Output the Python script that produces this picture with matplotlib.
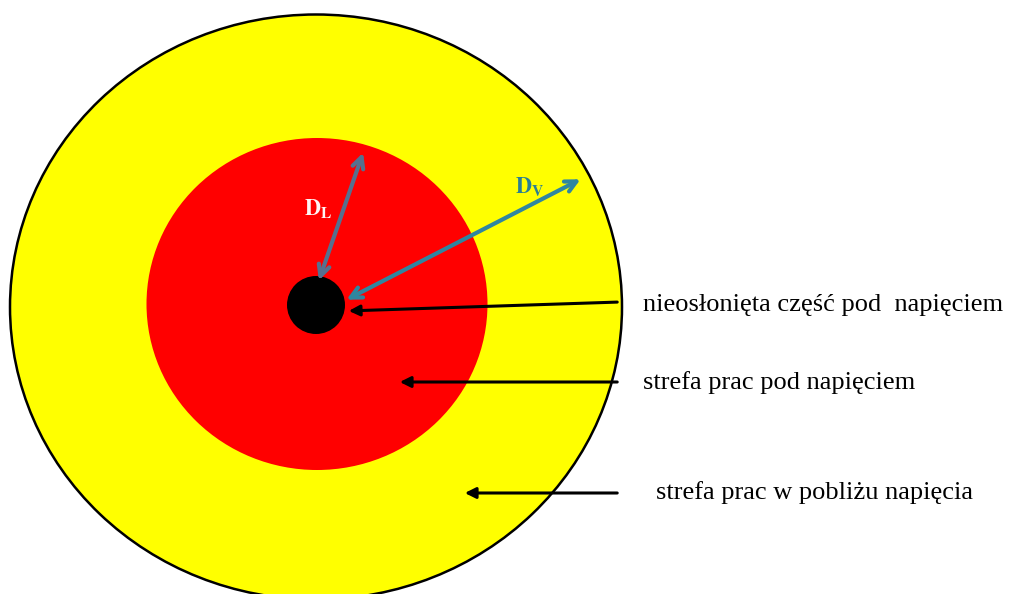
import matplotlib.pyplot as plt
from matplotlib.patches import Ellipse

plt.rcParams['mathtext.fontset'] = 'stix'

# zone geometry in image pixels (x, y from top-left)
centre = (316, 307)
outer_size = (612, 585)
inner_size = (341, 332)
dot_size = (58, 58)

labels = ["nieosłonięta część pod  napięciem",
          "strefa prac pod napięciem",
          "strefa prac w pobliżu napięcia"]
label_x = [643, 643, 656]
label_y = [305, 383, 493]
arrow_start = [(620, 302), (620, 382), (620, 493)]
arrow_end = [(346, 311), (397, 382), (462, 493)]

dl_arrow = [(318, 283), (364, 150)]
dv_arrow = [(344, 301), (583, 178)]

fig = plt.figure(figsize=(10.09, 5.94), dpi=100)
ax = fig.add_axes([0, 0, 1, 1])
ax.set_xlim(0, 1009)
ax.set_ylim(594, 0)
ax.axis('off')

ax.add_patch(Ellipse(centre, *outer_size, facecolor='#ffff00', edgecolor='black', lw=1.8))
ax.add_patch(Ellipse((317, 304), *inner_size, facecolor='#ff0000', edgecolor='none'))
ax.add_patch(Ellipse((316, 305), *dot_size, facecolor='black', edgecolor='none'))

# radius arrows
ax.annotate('', xy=dl_arrow[0], xytext=dl_arrow[1],
            arrowprops=dict(arrowstyle='<->', color='#56708f', lw=3, mutation_scale=20))
ax.annotate('', xy=dv_arrow[0], xytext=dv_arrow[1],
            arrowprops=dict(arrowstyle='<->', color='#2f86a0', lw=3, mutation_scale=20))
ax.text(304, 209, r'$\mathbf{D}_{\mathbf{L}}$', color='#fff4f4', fontsize=16,
        ha='left', va='center')
ax.text(515, 187, r'$\mathbf{D}_{\mathbf{V}}$', color='#2a7f92', fontsize=16,
        ha='left', va='center')

for (x0, y0), (x1, y1) in zip(arrow_start, arrow_end):
    ax.annotate('', xy=(x1, y1), xytext=(x0, y0),
                arrowprops=dict(arrowstyle='-|>', color='black', lw=2.2, mutation_scale=16))

for t, x, y in zip(labels, label_x, label_y):
    ax.text(x, y, t, fontsize=19, family='Liberation Serif', ha='left', va='center')

fig.savefig('out.png', dpi=100)
